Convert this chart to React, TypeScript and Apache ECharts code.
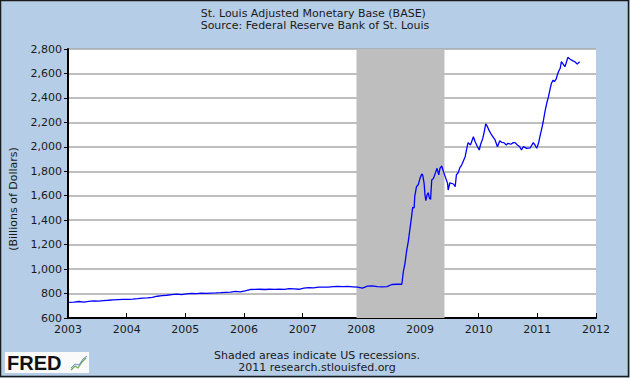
import React, { useEffect, useRef } from "react";
import * as echarts from "echarts";

// Title lines
const titleLines = ["St. Louis Adjusted Monetary Base (BASE)", "Source: Federal Reserve Bank of St. Louis"];
const footLines = ["Shaded areas indicate US recessions.", "2011 research.stlouisfed.org"];
const yAxisName = "(Billions of Dollars)";

// Axis settings
const xMin = 2003;
const xMax = 2012;
const yMin = 600;
const yMax = 2800;
const yStep = 200;

// Recession (Dec 2007 - Jun 2009) in decimal years
const recessionStart = 2007.917;
const recessionEnd = 2009.417;

// Monthly values, Jan 2003 .. Aug 2008 (billions of dollars)
const earlyStartYear = 2003;
const earlyBase = [
  728, 730, 735, 729, 736, 740, 738, 742, 745, 749, 751, 752,
  753, 755, 758, 762, 765, 769, 778, 783, 786, 791, 795, 792,
  797, 801, 800, 803, 801, 804, 805, 807, 810, 812, 817, 814,
  822, 833, 834, 835, 833, 835, 834, 836, 834, 840, 838, 835,
  844, 849, 847, 852, 853, 852, 856, 859, 856, 858, 855, 852,
  845, 860, 862, 856, 855, 857, 874, 876,
];

// Bi-weekly observations from Sep 2008 on (decimal years)
const lateYears = [
  2008.69, 2008.716, 2008.744, 2008.77, 2008.8, 2008.83, 2008.86, 2008.875, 2008.9, 2008.91, 2008.94, 2008.97,
  2009.0, 2009.03, 2009.045, 2009.07, 2009.085, 2009.1, 2009.12, 2009.14, 2009.16, 2009.18, 2009.2, 2009.23,
  2009.26, 2009.29, 2009.32, 2009.34, 2009.37, 2009.4, 2009.43, 2009.47, 2009.48, 2009.51, 2009.57, 2009.6,
  2009.62, 2009.65, 2009.68, 2009.71, 2009.77, 2009.81, 2009.82, 2009.86, 2009.91, 2009.94, 2009.98,
  2010.01, 2010.03, 2010.07, 2010.09, 2010.12, 2010.15, 2010.18, 2010.22, 2010.28, 2010.32, 2010.36, 2010.39,
  2010.43, 2010.47, 2010.5, 2010.55, 2010.59, 2010.62, 2010.66, 2010.7, 2010.73, 2010.76, 2010.82, 2010.88,
  2010.93, 2010.96, 2010.99,
  2011.02, 2011.05, 2011.07, 2011.1, 2011.13, 2011.16, 2011.19, 2011.22, 2011.24, 2011.27, 2011.29, 2011.32,
  2011.34, 2011.36, 2011.39, 2011.41, 2011.44, 2011.47, 2011.49, 2011.52, 2011.56, 2011.6, 2011.64, 2011.68,
  2011.72,
];
const lateBase = [
  876, 979, 1047, 1142, 1224, 1333, 1442, 1505, 1500, 1592, 1674, 1690,
  1742, 1778, 1770, 1701, 1606, 1559, 1606, 1625, 1580, 1570, 1729, 1742,
  1783, 1824, 1770, 1824, 1843, 1797, 1756, 1701, 1647, 1706, 1696, 1674,
  1770, 1788, 1830, 1851, 1919, 2015, 2034, 2015, 2083, 2042, 2001,
  1974, 2015, 2069, 2110, 2187, 2165, 2132, 2097, 2056, 2001, 2050, 2037,
  2034, 2015, 2029, 2021, 2034, 2034, 2015, 2001, 1974, 2001, 1988, 1992,
  2034, 2015, 1988,
  2029, 2097, 2137, 2205, 2287, 2356, 2410, 2478, 2519, 2546, 2533, 2553,
  2587, 2614, 2642, 2696, 2676, 2655, 2683, 2732, 2716, 2705, 2696, 2676,
  2696,
];

const FONT = "DejaVu Sans";
const BG = "#b5cde6";
const TEXT = "#1a1a1a";

export default function App() {
  const ref = useRef<HTMLDivElement>(null);
  useEffect(() => {
    document.body.style.margin = "0";
    if (!ref.current) return;
    const chart = echarts.init(ref.current, null, { renderer: "svg" });

    const data: [number, number][] = [];
    earlyBase.forEach((v, i) => data.push([earlyStartYear + i / 12 + 0.02, v]));
    lateYears.forEach((t, i) => data.push([t, lateBase[i]]));

    chart.setOption({
      animation: false,
      backgroundColor: BG,
      grid: {
        left: 68,
        top: 49,
        right: 34,
        bottom: 60,
        containLabel: false,
        show: true,
        backgroundColor: "#ffffff",
        borderWidth: 0,
      },
      xAxis: {
        type: "value",
        min: xMin,
        max: xMax,
        interval: 1,
        axisLine: { show: true, onZero: false, lineStyle: { color: "#000", width: 2 } },
        axisTick: { show: true, inside: true, length: 5, lineStyle: { color: "#000", width: 1 } },
        splitLine: { show: false },
        axisLabel: {
          color: TEXT,
          fontFamily: FONT,
          fontSize: 11,
          margin: 6,
          formatter: (v: number) => String(Math.round(v)),
        },
      },
      yAxis: {
        type: "value",
        min: yMin,
        max: yMax,
        interval: yStep,
        axisLine: { show: true, lineStyle: { color: "#000", width: 2 } },
        axisTick: { show: true, inside: false, length: 4, lineStyle: { color: "#000", width: 1 } },
        splitLine: { show: true, lineStyle: { color: "#a9a9a9", width: 1.5 } },
        axisLabel: {
          color: TEXT,
          fontFamily: FONT,
          fontSize: 11,
          margin: 6,
          formatter: (v: number) => v.toLocaleString("en-US"),
        },
      },
      series: [
        {
          type: "line",
          data,
          showSymbol: false,
          symbol: "none",
          lineStyle: { color: "#0000ff", width: 1.3 },
          markArea: {
            silent: true,
            itemStyle: { color: "#bebebe", opacity: 1 },
            data: [[{ xAxis: recessionStart }, { xAxis: recessionEnd }]],
          },
          z: 3,
        },
      ],
      graphic: [
        {
          type: "text",
          left: "center",
          top: 7,
          style: {
            text: titleLines.join("\n"),
            fill: TEXT,
            font: `11px '${FONT}'`,
            lineHeight: 12,
            align: "center",
          },
        },
        {
          type: "text",
          x: 13,
          y: 199,
          rotation: Math.PI / 2,
          style: {
            text: yAxisName,
            fill: TEXT,
            font: `11px '${FONT}'`,
            align: "center",
            verticalAlign: "middle",
          },
        },
        {
          type: "text",
          x: 317,
          y: 355,
          style: {
            text: footLines[0],
            fill: TEXT,
            font: `11px '${FONT}'`,
            align: "center",
            verticalAlign: "middle",
          },
        },
        {
          type: "text",
          x: 317,
          y: 367,
          style: {
            text: footLines[1],
            fill: TEXT,
            font: `11px '${FONT}'`,
            align: "center",
            verticalAlign: "middle",
          },
        },
        {
          type: "rect",
          shape: { x: 5, y: 352, width: 84, height: 21 },
          style: { fill: "#fafafa" },
        },
        {
          type: "text",
          x: 7,
          y: 363,
          style: {
            text: "FRED",
            fill: "#111",
            font: "bold 20px 'Liberation Sans'",
            verticalAlign: "middle",
          },
        },
        {
          type: "polyline",
          shape: { points: [[71, 370], [75, 366], [78, 368], [82, 362], [86, 358]] },
          style: { stroke: "#6aa84f", lineWidth: 1.2, fill: null },
        },
        {
          type: "polyline",
          shape: { points: [[71, 368], [75, 364], [79, 365], [83, 359], [87, 356]] },
          style: { stroke: "#6d8fc7", lineWidth: 1, fill: null },
        },
        {
          type: "rect",
          shape: { x: 0.5, y: 0.5, width: 628, height: 376 },
          style: { fill: null, stroke: "#1a1a1a", lineWidth: 1.5 },
        },
      ],
    });
    return () => chart.dispose();
  }, []);
  return <div ref={ref} style={{ width: 630, height: 378 }} />;
}
